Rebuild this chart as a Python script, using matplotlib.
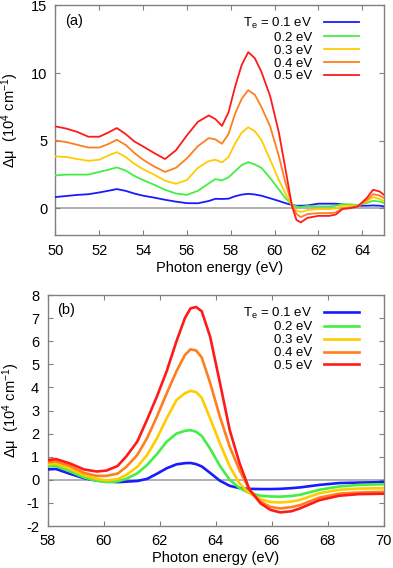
import matplotlib

matplotlib.use("Agg")
import matplotlib.pyplot as plt

plt.rcParams["font.family"] = ["Liberation Sans", "DejaVu Sans"]
plt.rcParams["mathtext.fontset"] = "custom"
plt.rcParams["mathtext.rm"] = "Liberation Sans"
plt.rcParams["mathtext.it"] = "Liberation Sans:italic"
plt.rcParams["axes.unicode_minus"] = False

# ---- data, panel (a) ----
energyA = [50, 50.5, 51, 51.5, 52, 52.4, 52.8, 53.2, 53.6, 54, 54.5, 55, 55.5, 56,
           56.5, 57, 57.3, 57.6, 57.9, 58.2, 58.5, 58.8, 59.1, 59.4, 59.8, 60.2, 60.5,
           60.8, 61.0, 61.2, 61.5, 62, 62.5, 62.8, 63.1, 63.5, 63.8, 64.2, 64.5, 64.8, 65]
muA_01 = [0.84, 0.92, 1.0, 1.05, 1.18, 1.3, 1.43, 1.3, 1.1, 0.94, 0.8, 0.64, 0.5, 0.39,
          0.38, 0.55, 0.71, 0.7, 0.72, 0.9, 1.02, 1.08, 1.03, 0.94, 0.75, 0.55, 0.39,
          0.25, 0.2, 0.2, 0.22, 0.35, 0.35, 0.35, 0.3, 0.22, 0.2, 0.2, 0.22, 0.2, 0.15]
muA_02 = [2.44, 2.5, 2.5, 2.5, 2.7, 2.85, 3.03, 2.8, 2.4, 2.1, 1.75, 1.38, 1.1, 1.0,
          1.3, 1.85, 2.17, 2.07, 2.3, 2.75, 3.2, 3.42, 3.25, 3.0, 2.25, 1.4, 0.76,
          0.27, 0.15, 0.1, 0.18, 0.15, 0.15, 0.2, 0.32, 0.3, 0.25, 0.4, 0.57, 0.5, 0.4]
muA_03 = [3.84, 3.8, 3.65, 3.52, 3.6, 3.9, 4.16, 3.8, 3.3, 2.9, 2.5, 2.05, 1.82, 2.1,
          3.0, 3.5, 3.6, 3.4, 3.8, 4.8, 5.6, 6.0, 5.7, 5.07, 3.6, 2.1, 1.1,
          0.2, -0.15, -0.27, -0.12, -0.05, -0.05, 0.0, 0.2, 0.2, 0.2, 0.5, 0.84, 0.7, 0.52]
muA_04 = [5.02, 4.9, 4.7, 4.5, 4.5, 4.75, 5.07, 4.7, 4.1, 3.6, 3.1, 2.7, 3.0, 3.7,
          4.6, 5.2, 5.1, 4.78, 5.5, 7.0, 8.1, 8.74, 8.4, 7.5, 6.06, 3.85, 1.9,
          0.27, -0.4, -0.64, -0.42, -0.35, -0.35, -0.3, 0.02, 0.08, 0.15, 0.6, 1.06, 0.95, 0.76]
muA_05 = [6.06, 5.9, 5.65, 5.3, 5.3, 5.6, 5.94, 5.5, 4.95, 4.58, 4.1, 3.65, 4.3, 5.4,
          6.4, 6.87, 6.6, 6.1, 7.1, 9.0, 10.6, 11.55, 11.1, 10.1, 8.3, 5.6, 2.9,
          0.15, -0.85, -1.03, -0.7, -0.55, -0.55, -0.45, -0.05, 0.03, 0.15, 0.75, 1.38, 1.25, 1.0]

# ---- data, panel (b) ----
energyB = [58.0, 58.3, 58.8, 59.3, 59.75, 60.1, 60.5, 60.8, 61.2, 61.55, 61.9, 62.25,
           62.6, 62.9, 63.1, 63.3, 63.5, 63.8, 64.15, 64.5, 64.85, 65.2, 65.6, 65.95,
           66.3, 66.7, 67.0, 67.7, 68.4, 69.1, 70.0]
muB_01 = [0.45, 0.47, 0.26, 0.07, -0.03, -0.07, -0.1, -0.08, -0.05, 0.04, 0.26, 0.5,
          0.67, 0.72, 0.73, 0.68, 0.58, 0.3, -0.04, -0.26, -0.36, -0.39, -0.4, -0.4,
          -0.39, -0.36, -0.33, -0.22, -0.14, -0.12, -0.1]
muB_02 = [0.58, 0.6, 0.36, 0.1, -0.04, -0.1, -0.07, 0.04, 0.28, 0.64, 1.11, 1.65,
          2.0, 2.12, 2.15, 2.08, 1.9, 1.35, 0.6, 0.0, -0.36, -0.57, -0.69, -0.72,
          -0.73, -0.7, -0.65, -0.43, -0.29, -0.22, -0.19]
muB_03 = [0.67, 0.7, 0.48, 0.2, 0.04, -0.03, 0.03, 0.2, 0.56, 1.07, 1.79, 2.66,
          3.45, 3.75, 3.85, 3.8, 3.55, 2.66, 1.58, 0.58, -0.16, -0.58, -0.84, -0.96,
          -0.98, -0.94, -0.87, -0.58, -0.43, -0.38, -0.36]
muB_04 = [0.76, 0.8, 0.6, 0.3, 0.17, 0.17, 0.27, 0.55, 1.07, 1.8, 2.73, 3.74,
          4.7, 5.4, 5.65, 5.6, 5.3, 4.2, 2.73, 1.43, 0.42, -0.42, -0.95, -1.17,
          -1.24, -1.18, -1.1, -0.77, -0.6, -0.55, -0.52]
muB_05 = [0.85, 0.9, 0.71, 0.45, 0.36, 0.4, 0.6, 1.0, 1.65, 2.6, 3.6, 4.7,
          6.0, 7.0, 7.42, 7.48, 7.3, 6.2, 4.2, 2.15, 0.72, -0.42, -1.02, -1.3,
          -1.41, -1.36, -1.24, -0.88, -0.69, -0.62, -0.6]

labels = ["T$_\\mathrm{e}$ = 0.1 eV", "0.2 eV", "0.3 eV", "0.4 eV", "0.5 eV"]
colors = ["#1a1aff", "#44ee44", "#ffcc00", "#ff7f1e", "#ff1a1a"]

seriesA = [muA_01, muA_02, muA_03, muA_04, muA_05]
seriesB = [muB_01, muB_02, muB_03, muB_04, muB_05]

frameColor = "#808080"
ylabelText = "Δμ  (10$^{4}$ cm$^{-1}$)"


def styleAxes(ax):
    for s in ax.spines.values():
        s.set_color(frameColor)
        s.set_linewidth(1.0)
    ax.tick_params(direction="in", top=True, right=True, length=3.5, width=0.8,
                   color=frameColor, labelsize=10.5, labelcolor="black", pad=6)
    ax.axhline(0, color="#aaaaaa", lw=1.3, zorder=1)


fig = plt.figure(figsize=(3.93, 5.68), dpi=100)
axA = fig.add_axes([0.1412, 0.5854, 0.836, 0.405])
axB = fig.add_axes([0.1209, 0.0739, 0.856, 0.4067])

for mu, c, lab in zip(seriesA, colors, labels):
    axA.plot(energyA, mu, color=c, lw=1.3, label=lab, zorder=3)
for mu, c, lab in zip(seriesB, colors, labels):
    axB.plot(energyB, mu, color=c, lw=1.9, label=lab, zorder=3)

styleAxes(axA)
styleAxes(axB)

axA.set_xlim(50, 65)
axA.set_ylim(-2, 15)
axA.set_xticks(range(50, 65, 2))
axA.set_yticks([0, 5, 10, 15])

axB.set_xlim(58, 70)
axB.set_ylim(-2, 8)
axB.set_xticks(range(58, 71, 2))
axB.set_yticks(range(-2, 9))

# label x positions: right edge of the rotated label, in axes fraction
for ax, tag, lx in [(axA, "(a)", -0.104), (axB, "(b)", -0.077)]:
    ax.set_xlabel("Photon energy (eV)", fontsize=10.5, labelpad=2)
    ax.set_ylabel(ylabelText, fontsize=10.5)
    ax.yaxis.set_label_coords(lx, 0.5)
    ax.text(0.03, 0.965, tag, transform=ax.transAxes, ha="left", va="top", fontsize=10.5)

legA = axA.legend(loc="upper right", bbox_to_anchor=(0.925, 0.955), frameon=False,
                  markerfirst=False, fontsize=9.5, handlelength=2.7, handletextpad=0.9,
                  labelspacing=0.05, borderpad=0, borderaxespad=0)
legB = axB.legend(loc="upper right", bbox_to_anchor=(0.927, 0.955), frameon=False,
                  markerfirst=False, fontsize=9.5, handlelength=2.7, handletextpad=0.9,
                  labelspacing=0.05, borderpad=0, borderaxespad=0)

fig.savefig("out.png", dpi=100)
